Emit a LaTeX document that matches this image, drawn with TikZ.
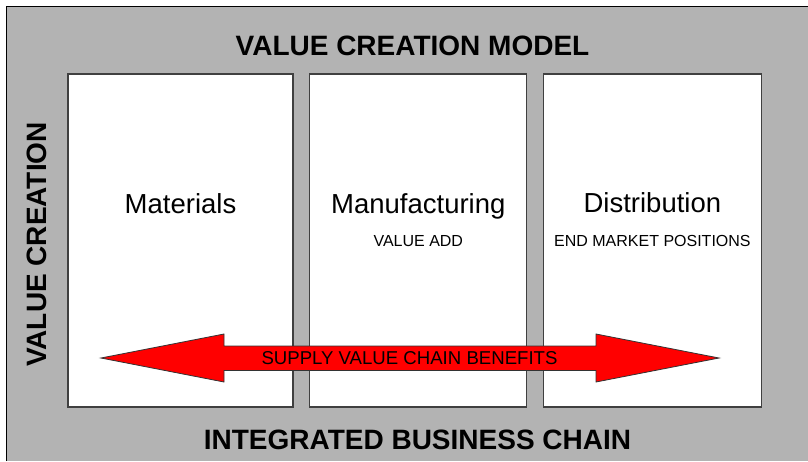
\documentclass[tikz,border=0pt]{standalone}
\usepackage{fontspec}
\setmainfont{Liberation Sans}
\usetikzlibrary{positioning}
\definecolor{panelgray}{RGB}{179,179,179}
\definecolor{boxline}{RGB}{64,64,64}
\definecolor{arrowred}{RGB}{255,0,0}
\tikzset{
	stage/.style={draw=boxline,line width=1.2pt,fill=white,minimum height=333pt,inner sep=0pt},
	heading/.style={font=\bfseries\fontsize{28}{32}\selectfont,anchor=base},
	stagename/.style={font=\fontsize{27.5}{32}\selectfont,anchor=base},
	stagenote/.style={font=\fontsize{16}{19}\selectfont,anchor=base}
}

\begin{document}
\begin{tikzpicture}[x=1pt,y=-1pt]
        \useasboundingbox (0,0) rectangle (808,461);
        % grey panel behind everything
        \fill[panelgray] (6,6) rectangle (808,461);
        \draw[line width=1pt] (6,461) -- (6,6) -- (808,6);
        \node[heading] (title) at (412.5,55) {VALUE CREATION MODEL};
        \node[heading] (footer) at (417.5,449) {INTEGRATED BUSINESS CHAIN};
        \node[heading,rotate=90] (side) at (46,244.5) {VALUE CREATION};
        % the three stages
        \node[stage,minimum width=225pt] (materials) at (180.5,240.5) {};
        \node[stage,minimum width=217pt,right=15.6pt of materials] (manufacturing) {};
        \node[stage,minimum width=218pt,right=15.4pt of manufacturing] (distribution) {};
        \node[stagename,yshift=-140pt] (materials_name) at (materials.north) {Materials};
        \node[stagename,yshift=-140pt] (manufacturing_name) at (manufacturing.north) {Manufacturing};
        \node[stagename,yshift=-139pt] (distribution_name) at (distribution.north) {Distribution};
        \node[stagenote,yshift=-173pt] (manufacturing_note) at (manufacturing.north) {VALUE ADD};
        \node[stagenote,yshift=-173pt] (distribution_note) at (distribution.north) {END MARKET POSITIONS};
        % double arrow across the stages
        \coordinate (left_tip) at (101,358);
        \coordinate (right_tip) at (719,358);
        \filldraw[fill=arrowred,draw=black!80,line width=0.8pt] (left_tip) -- (224,334) -- (224,346)
            -- (596,346) -- (596,334) -- (right_tip) -- (596,382) -- (596,370.5)
            -- (224,370.5) -- (224,382) -- cycle;
        \node[font=\fontsize{18.6}{22}\selectfont,anchor=base] (benefits) at (409.5,364.5) {SUPPLY VALUE CHAIN BENEFITS};
\end{tikzpicture}
\end{document}
